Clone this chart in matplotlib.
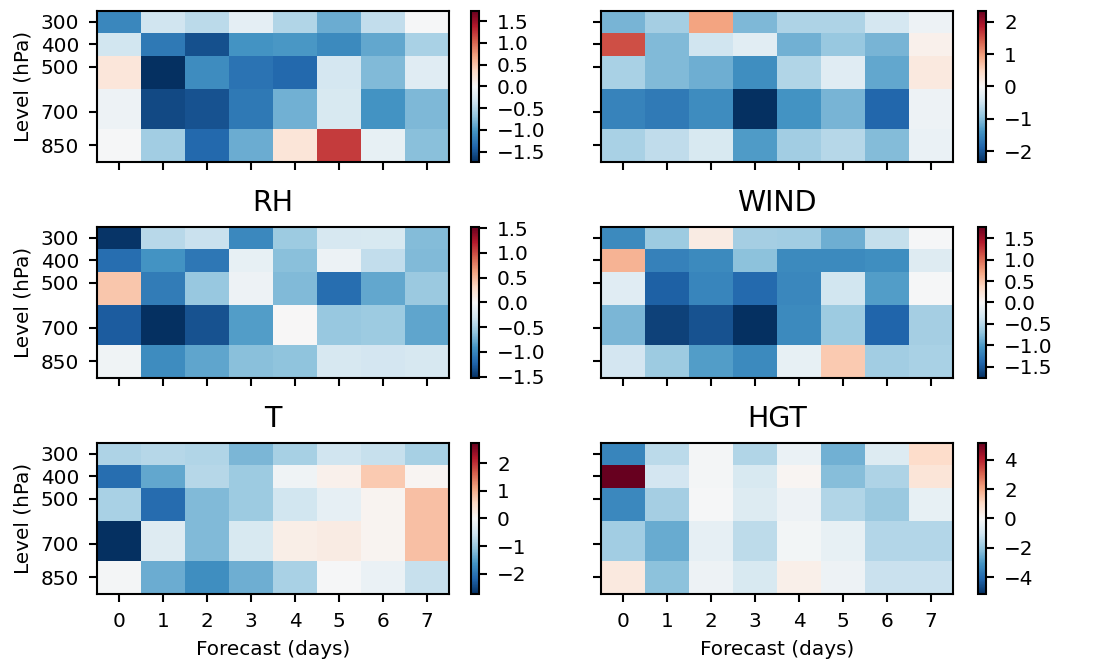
import numpy as np
import matplotlib
matplotlib.use("Agg")
import matplotlib.pyplot as plt
from matplotlib.ticker import MultipleLocator

days = [0, 1, 2, 3, 4, 5, 6, 7]
levels = [300, 400, 500, 700, 850]

# rows = levels (300..850), cols = forecast day 0..7
panel_a = np.array([
    [-1.13, -0.35, -0.47, -0.17, -0.52, -0.87, -0.43, -0.02],
    [-0.33, -1.25, -1.53, -1.04, -1.01, -1.11, -0.90, -0.56],
    [0.21, -1.74, -1.10, -1.29, -1.36, -0.31, -0.77, -0.21],
    [-0.09, -1.57, -1.51, -1.25, -0.84, -0.28, -1.04, -0.78],
    [-0.02, -0.61, -1.36, -0.87, 0.23, 1.22, -0.14, -0.73],
])
panel_b = np.array([
    [-1.08, -0.80, 0.94, -1.05, -0.73, -0.73, -0.42, -0.12],
    [1.50, -1.03, -0.47, -0.26, -1.12, -0.89, -1.08, 0.12],
    [-0.75, -1.03, -1.15, -1.45, -0.70, -0.28, -1.22, 0.23],
    [-1.57, -1.66, -1.47, -2.34, -1.40, -1.08, -1.85, -0.12],
    [-0.75, -0.59, -0.37, -1.33, -0.82, -0.66, -1.01, -0.16],
])
rh = np.array([
    [-1.50, -0.43, -0.34, -0.99, -0.55, -0.26, -0.24, -0.66],
    [-1.16, -0.92, -1.10, -0.12, -0.64, -0.09, -0.38, -0.67],
    [0.43, -1.07, -0.58, -0.08, -0.67, -1.16, -0.80, -0.57],
    [-1.27, -1.53, -1.33, -0.86, 0.00, -0.58, -0.55, -0.81],
    [-0.06, -0.96, -0.81, -0.64, -0.61, -0.26, -0.28, -0.26],
])
wind = np.array([
    [-1.13, -0.64, 0.14, -0.60, -0.62, -0.87, -0.42, -0.02],
    [0.62, -1.20, -1.13, -0.73, -1.13, -1.13, -1.10, -0.23],
    [-0.21, -1.45, -1.17, -1.38, -1.15, -0.34, -0.99, -0.02],
    [-0.81, -1.65, -1.54, -1.77, -1.13, -0.64, -1.42, -0.60],
    [-0.32, -0.64, -0.99, -1.13, -0.14, 0.46, -0.62, -0.58],
])
temp = np.array([
    [-0.85, -0.79, -0.82, -1.26, -0.90, -0.55, -0.63, -0.90],
    [-2.08, -1.42, -0.79, -0.99, -0.11, 0.14, 0.71, 0.05],
    [-0.88, -2.11, -1.21, -0.99, -0.52, -0.25, 0.08, 0.82],
    [-2.74, -0.36, -1.21, -0.44, 0.19, 0.22, 0.08, 0.82],
    [-0.05, -1.37, -1.70, -1.34, -0.88, -0.03, -0.19, -0.63],
])
hgt = np.array([
    [-3.40, -1.39, -0.10, -1.55, -0.36, -2.47, -0.72, 0.93],
    [5.15, -0.93, -0.10, -0.82, 0.10, -2.21, -1.60, 0.67],
    [-3.30, -1.75, -0.05, -0.72, -0.26, -1.55, -1.91, -0.41],
    [-1.80, -2.58, -0.46, -1.34, -0.15, -0.41, -1.49, -1.49],
    [0.52, -2.11, -0.26, -0.82, 0.31, -0.26, -1.13, -1.13],
])

panels = [
    (panel_a, "", 0.5), (panel_b, "", 1),
    (rh, "RH", 0.5), (wind, "WIND", 0.5),
    (temp, "T", 1), (hgt, "HGT", 2),
]

plt.rcParams.update({
    "font.size": 14.4,
    "axes.linewidth": 1.5,
    "xtick.major.size": 6,
    "ytick.major.size": 6,
    "xtick.major.width": 1.5,
    "ytick.major.width": 1.5,
    "xtick.major.pad": 7,
    "ytick.major.pad": 7,
})

W, H = 1097, 667
fig = plt.figure(figsize=(W / 100, H / 100), dpi=100)

lefts = [97, 601]
cb_lefts = [471, 978]
tops = [10.7, 226.7, 442.7]
ax_w = 352
ax_h = 151.5
cb_w = 8

for i, (data, title, step) in enumerate(panels):
    r, c = divmod(i, 2)
    ax = fig.add_axes([lefts[c] / W, 1 - (tops[r] + ax_h) / H, ax_w / W, ax_h / H])
    cax = fig.add_axes([cb_lefts[c] / W, 1 - (tops[r] + ax_h) / H, cb_w / W, ax_h / H])
    vmax = np.abs(data).max()
    mesh = ax.pcolormesh(days, levels, data, cmap="RdBu_r", vmin=-vmax, vmax=vmax,
                         shading="nearest")
    ax.invert_yaxis()
    ax.set_yticks(levels)
    ax.set_xticks(days)
    if c == 0:
        ax.set_ylabel("Level (hPa)", labelpad=6)
    else:
        ax.set_yticklabels([])
    if r < 2:
        ax.set_xticklabels([])
    else:
        ax.set_xlabel("Forecast (days)", labelpad=6)
    if title:
        ax.set_title(title, fontsize=20.5, pad=11)
    cb = fig.colorbar(mesh, cax=cax)
    cb.outline.set_linewidth(1.5)
    cb.locator = MultipleLocator(step)
    cb.update_ticks()

fig.savefig("out.png", dpi=100)
